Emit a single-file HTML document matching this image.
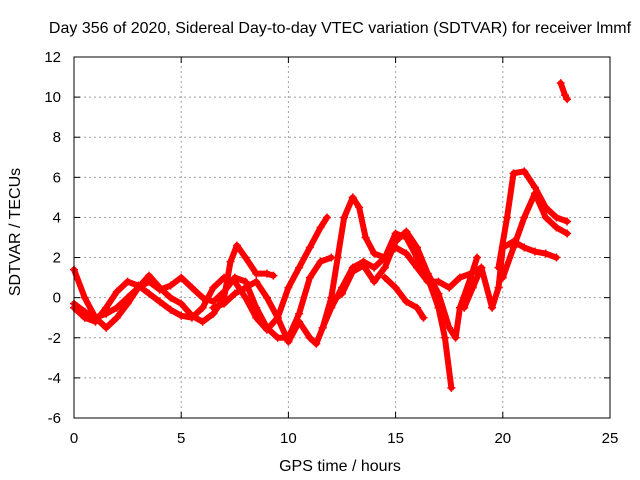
<!DOCTYPE html>
<html><head><meta charset="utf-8"><style>
body{margin:0;background:#fff}
svg{display:block;font-family:"Liberation Sans",sans-serif}
</style></head><body>
<svg id="chart" width="640" height="480">
<text x="340" y="33" font-size="16" text-anchor="middle">Day 356 of 2020, Sidereal Day-to-day VTEC variation (SDTVAR) for receiver lmmf</text>
<text x="340" y="471" font-size="16" text-anchor="middle">GPS time / hours</text>
<text transform="translate(20,232) rotate(-90)" font-size="16" text-anchor="middle">SDTVAR / TECUs</text>
<g id="grid"></g><g id="marks"></g>
<rect x="74" y="57" width="536" height="361" fill="none" stroke="#000"/>
</svg>
<script>
const xTicks=[0,5,10,15,20,25];
const yTicks=[-6,-4,-2,0,2,4,6,8,10,12];
const trackA=[[0,1.4],[0.5,0],[1,-1],[1.5,-1.5],[2,-1],[2.5,-0.3],[3,0.5],[3.5,1.1],[4,0.5],[4.5,0],[5,-0.3],[5.5,-0.9],[6,-1.2],[6.5,-0.8],[7,0],[7.3,1.8],[7.6,2.6],[8,2],[8.5,1.2],[9,1.2],[9.3,1.1]];
const trackB=[[0,-0.3],[0.5,-0.7],[1,-1],[1.5,-0.8],[2,-0.5],[2.5,0],[3,0.5],[3.5,0.8],[4,0.4],[4.5,0.6],[5,1],[5.5,0.5],[6,0],[6.5,-0.2],[7,0.3],[7.5,1],[8,0.8],[8.5,-0.5],[9,-1.5],[9.5,-2],[10,-2],[10.5,-0.8],[11,1],[11.5,1.8],[12,2]];
const trackC=[[0,-0.5],[0.5,-1],[1,-1.2],[1.5,-0.5],[2,0.3],[2.5,0.8],[3,0.6],[3.5,0.2],[4,-0.2],[4.5,-0.6],[5,-0.9],[5.5,-1],[6,-0.5],[6.5,0.5],[7,1],[7.5,0.8],[8,0],[8.5,-1],[9,-1.6],[9.5,-1],[10,0.5],[10.5,1.5],[11,2.5],[11.5,3.5],[11.8,4]];
const trackD=[[6.5,-0.5],[7,-0.3],[7.5,0.2],[8,0.5],[8.5,0.8],[9,0],[9.5,-1],[10,-2.2],[10.5,-1.2],[11,-2],[11.3,-2.3],[11.6,-1.5],[12,-0.5],[12.5,0.5],[13,1.5],[13.5,1.8],[14,1.5],[14.5,2],[15,2.5],[15.5,2.2],[16,1.5],[16.5,0.8],[17,0.8],[17.5,0.5],[18,1],[18.5,1.2],[19,1.5]];
const trackE=[[11.6,-1.5],[12,0],[12.3,2],[12.6,4],[13,5],[13.3,4.5],[13.6,3],[14,2.2],[14.5,2],[15,3.2],[15.5,3],[16,2],[16.5,1],[17,-0.5],[17.3,-2],[17.6,-4.5]];
const trackF=[[12,-0.2],[12.5,0.2],[13,1.3],[13.5,1.6],[14,0.8],[14.5,1.5],[15,2.8],[15.5,3.3],[16,2.5],[16.5,1.2],[17,0.2],[17.5,-1.5],[17.8,-2],[18,-0.5],[18.5,1],[18.8,2]];
const trackG=[[14.5,1],[15,0.5],[15.5,-0.2],[16,-0.5],[16.3,-1]];
const trackH=[[18.2,-0.5],[18.6,0.5],[19,1.5],[19.5,-0.5],[19.8,0.5],[20,2.5],[20.5,2.8],[21,2.5],[21.5,2.3],[22,2.2],[22.5,2]];
const trackI=[[19.8,1.5],[20.2,4],[20.5,6.2],[21,6.3],[21.5,5.5],[22,4.5],[22.5,4],[23,3.8]];
const trackJ=[[20,1],[20.5,2.5],[21,4],[21.5,5.2],[22,4],[22.5,3.5],[23,3.2]];
const trackK=[[22.7,10.7],[22.9,10.1],[23,9.9]];
const tracks=[trackA,trackB,trackC,trackD,trackE,trackF,trackG,trackH,trackI,trackJ,trackK];
const X0=74,X1=610,Y0=418,Y1=57;
const sx=v=>X0+(v-0)/25*(X1-X0);
const sy=v=>Y0-(v+6)/18*(Y0-Y1);
const NS="http://www.w3.org/2000/svg";
const grid=document.getElementById('grid'),marks=document.getElementById('marks');
function mk(t,a,p){const e=document.createElementNS(NS,t);for(const k in a)e.setAttribute(k,a[k]);p.appendChild(e);return e;}
xTicks.forEach(v=>{const x=sx(v);
 if(v>0&&v<25){const l=mk('line',{x1:x,x2:x,y1:Y0,y2:Y1,stroke:'#a0a0a0','stroke-dasharray':'2,3'},grid);
 
 }
 mk('line',{x1:x,x2:x,y1:Y0,y2:Y0-6,stroke:'#000'},grid);mk('line',{x1:x,x2:x,y1:Y1,y2:Y1+6,stroke:'#000'},grid);
 const t=mk('text',{x:x,y:Y0+25,'font-size':15,'text-anchor':'middle'},grid);t.textContent=v;
 
 });
yTicks.forEach(v=>{const y=sy(v);
 if(v>-6&&v<12){const l=mk('line',{x1:X0,x2:X1,y1:y,y2:y,stroke:'#a0a0a0','stroke-dasharray':'2,3'},grid);
 
 }
 mk('line',{x1:X0,x2:X0+6,y1:y,y2:y,stroke:'#000'},grid);mk('line',{x1:X1,x2:X1-6,y1:y,y2:y,stroke:'#000'},grid);
 const t=mk('text',{x:X0-13,y:y+5,'font-size':15,'text-anchor':'end'},grid);t.textContent=v;
 
 });
tracks.forEach((tr,i)=>{
 const g=mk('g',{},marks);
 
 
 mk('polyline',{points:tr.map(p=>sx(p[0])+','+sy(p[1])).join(' '),fill:'none',stroke:'#ff0000','stroke-width':6,'stroke-linejoin':'round','stroke-linecap':'round'},g);
 tr.forEach(p=>{const x=sx(p[0]),y=sy(p[1]);
  mk('path',{d:`M${x-4},${y}H${x+4}M${x},${y-4}V${y+4}`,stroke:'#ff0000','stroke-width':1.5},g);});
});
</script>
</body></html>
